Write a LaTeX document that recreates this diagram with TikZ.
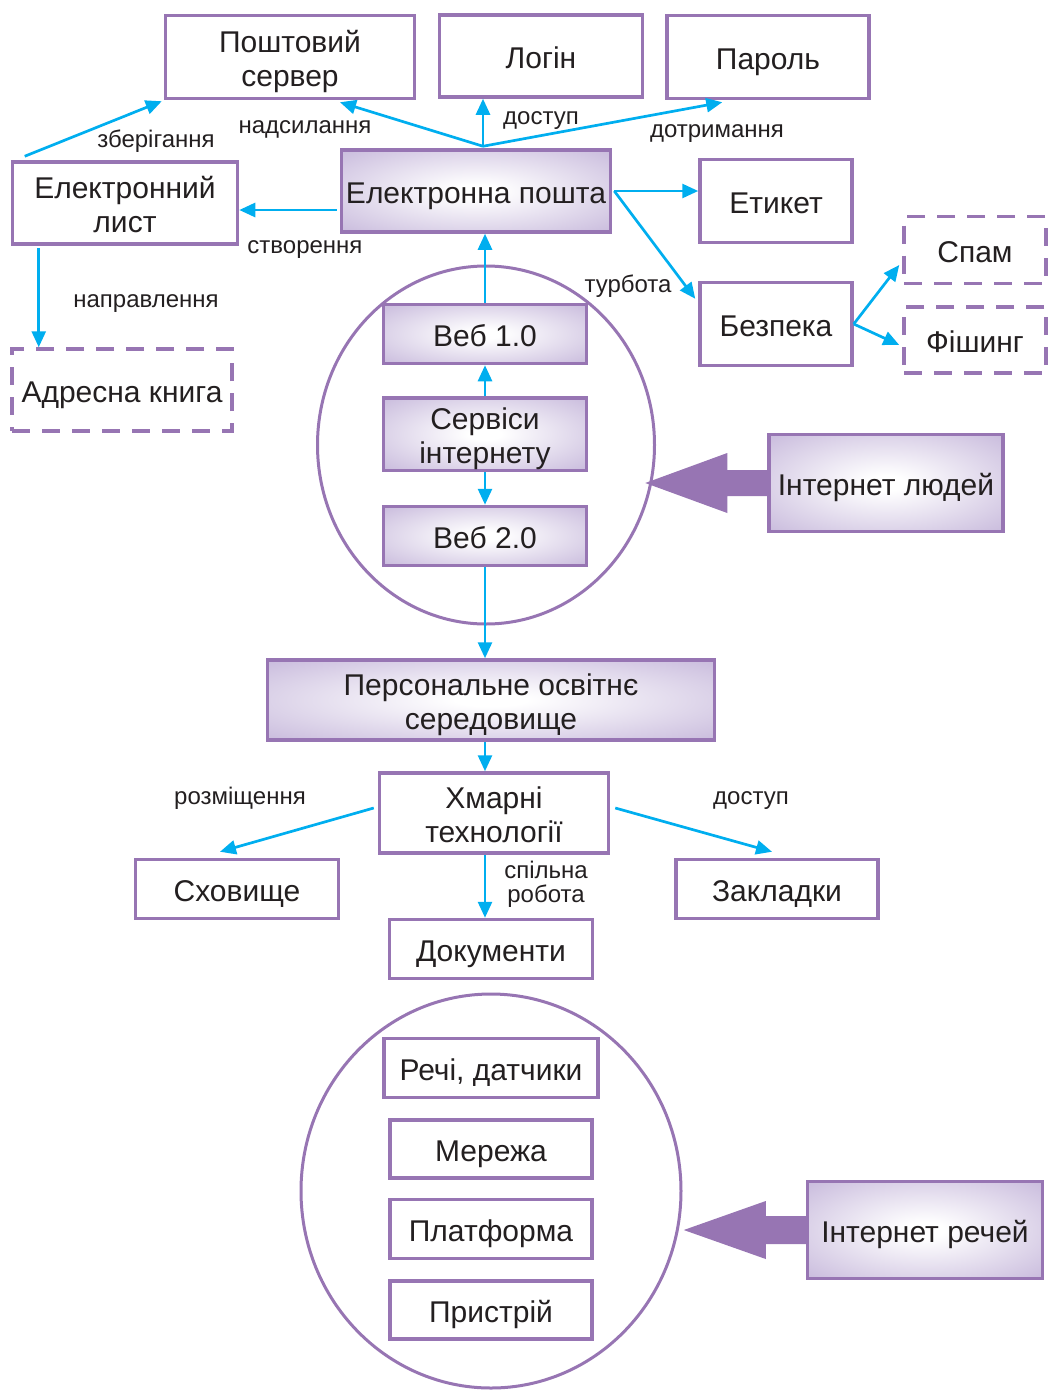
\documentclass[tikz,border=0pt]{standalone}
\usepackage{fontspec}
\setmainfont{Liberation Sans}
\usetikzlibrary{arrows.meta,calc,shapes.geometric}
\definecolor{pur}{RGB}{151,117,179}
\definecolor{lav}{RGB}{176,156,205}
\definecolor{cy}{RGB}{0,174,239}
\definecolor{txt}{RGB}{35,31,32}
\newcommand\fstrut{\rule{0pt}{32pt}}
\pgfdeclareradialshading{boxshade}{\pgfpoint{0bp}{0bp}}{color(0bp)=(white); color(4bp)=(white); color(50bp)=(lav)}
\tikzset{
  box/.style={draw=pur, line width=3.5pt, fill=white, inner sep=0pt, align=center, text=txt,
    font=\fontsize{30}{31}\selectfont,
    execute at begin node={\rule{0pt}{32pt}}, execute at end node={\rule[-6.5pt]{0pt}{6.5pt}}},
  two/.style={font=\fontsize{30}{34}\selectfont, execute at begin node={}},
  gbox/.style={box, shading=boxshade},
  dbox/.style={box, dash pattern=on 18pt off 12pt},
  lbl/.style={text=txt, inner sep=0pt, align=center, font=\fontsize{24}{24}\selectfont,
    execute at begin node={\rule{0pt}{17pt}}, execute at end node={\rule[-5pt]{0pt}{5pt}}},
  con/.style={draw=cy, line width=2.7pt, -{Triangle[length=16pt,width=14pt]}},
  bigarrow/.style={fill=pur, draw=none},
}
\begin{document}
\begin{tikzpicture}[x=1pt,y=-1pt]
\useasboundingbox (0,0) rectangle (1050,1390);
% ellipses
\node[ellipse, draw=pur, line width=3pt, minimum width=337pt, minimum height=358pt, inner sep=0pt] (c1) at (486,445) {};
\node[ellipse, draw=pur, line width=3pt, minimum width=380pt, minimum height=394pt, inner sep=0pt] (c2) at (491,1191) {};
% top row
\node[box, two, minimum width=249pt, minimum height=83pt] (ps) at (290,57) {\fstrut Поштовий\\сервер};
\node[box, minimum width=203pt, minimum height=82pt] (lg) at (541,56) {Логін};
\node[box, minimum width=202pt, minimum height=83pt] (pw) at (768,57) {Пароль};
\node[box, two, minimum width=225pt, minimum height=82pt] (el) at (125,203) {\fstrut Електронний\\лист};
\node[gbox, minimum width=269pt, minimum height=82pt] (em) at (476,191) {Електронна пошта};
\node[box, minimum width=152pt, minimum height=83pt] (et) at (776,201) {Етикет};
\node[box, minimum width=152pt, minimum height=83pt] (bz) at (776,324) {Безпека};
\node[dbox, minimum width=142pt, minimum height=67pt] (sp) at (975,250) {Спам};
\node[dbox, minimum width=142pt, minimum height=66pt] (fs) at (975,340) {Фішинг};
\node[dbox, minimum width=220pt, minimum height=82pt] (ab) at (122,390) {Адресна книга};
% circle 1 content
\node[gbox, minimum width=203pt, minimum height=59pt] (w1) at (485,334) {Веб 1.0};
\node[gbox, two, minimum width=203pt, minimum height=72pt] (sv) at (485,434) {\fstrut Сервіси\\інтернету};
\node[gbox, minimum width=203pt, minimum height=59pt] (w2) at (485,536) {Веб 2.0};
\node[gbox, minimum width=234pt, minimum height=97pt] (ppl) at (886,483) {Інтернет людей};
% middle
\node[gbox, two, minimum width=447pt, minimum height=80pt] (pos) at (491,700) {\fstrut Персональне освітнє\\середовище};
\node[box, two, minimum width=229pt, minimum height=80pt] (hm) at (494,813) {\fstrut Хмарні\\технології};
\node[box, minimum width=203pt, minimum height=59pt] (sh) at (237,889) {Сховище};
\node[box, minimum width=202pt, minimum height=59pt] (zk) at (777,889) {Закладки};
\node[box, minimum width=203pt, minimum height=59pt] (dk) at (491,949) {Документи};
% circle 2 content
\node[box, minimum width=214pt, minimum height=59pt] (rd) at (491,1068) {Речі, датчики};
\node[box, minimum width=202pt, minimum height=58pt] (mr) at (491,1149) {Мережа};
\node[box, minimum width=202pt, minimum height=59pt] (pl) at (491,1229) {Платформа};
\node[box, minimum width=202pt, minimum height=58pt] (pr) at (491,1310) {Пристрій};
\node[gbox, minimum width=235pt, minimum height=97pt] (thg) at (925,1230) {Інтернет речей};
% big arrows
\fill[bigarrow] ($(ppl.west)+(0,-13)$) -- ($(ppl.west)+(-40,-13)$) -- ($(ppl.west)+(-40,-30)$)
  -- ($(ppl.west)+(-122,0)$) -- ($(ppl.west)+(-40,30)$) -- ($(ppl.west)+(-40,13)$) -- ($(ppl.west)+(0,13)$) -- cycle;
\fill[bigarrow] ($(thg.west)+(0,-14)$) -- ($(thg.west)+(-40,-14)$) -- ($(thg.west)+(-40,-29)$)
  -- ($(thg.west)+(-122,0)$) -- ($(thg.west)+(-40,29)$) -- ($(thg.west)+(-40,14)$) -- ($(thg.west)+(0,14)$) -- cycle;
% connector points
\coordinate (emt) at ($(em.north)+(7,-2)$);
\coordinate (psb) at ($(ps.south)+(50,2)$);
\coordinate (pwb) at ($(pw.south west)+(57,2)$);
\coordinate (elt) at ($(el.north west)+(14,-4)$);
\coordinate (psw) at ($(ps.south west)+(-2,1)$);
\coordinate (eml) at ($(em.west)+(-3,19)$);
\coordinate (emr) at ($(em.east)+(2,0)$);
\coordinate (bzt) at ($(bz.north west)+(-3,18)$);
\coordinate (spl) at ($(sp.west)+(-3,15)$);
\coordinate (fsl) at ($(fs.west)+(-3,5)$);
\coordinate (elb) at ($(el.south west)+(28,2)$);
\coordinate (hml) at ($(hm.west)+(-4,-5)$);
\coordinate (hmr) at ($(hm.east)+(5,-5)$);
\coordinate (sht) at ($(sh.north)+(-17,-6)$);
\coordinate (zkt) at ($(zk.north)+(-5,-6)$);
% connectors
\draw[con] (emt) -- (psb);
\draw[con] (emt) -- (emt |- lg.south);
\draw[con] (emt) -- (pwb);
\draw[con] (elt) -- (psw);
\draw[con] (eml) -- (eml -| el.east);
\draw[con] (emr) -- (emr -| et.west);
\draw[con] (emr) -- (bzt);
\draw[con] (bz.east) -- (spl);
\draw[con] (bz.east) -- (fsl);
\draw[con] (elb) -- (elb |- ab.north);
\draw[con] (w1.north) -- (w1.north |- em.south);
\draw[con] (sv.north) -- (w1.south);
\draw[con] (sv.south) -- (w2.north);
\draw[con] (w2.south) -- (w2.south |- pos.north);
\draw[con] (w2.south |- pos.south) -- (w2.south |- hm.north);
\draw[con] (hml) -- (sht);
\draw[con] (hmr) -- (zkt);
\draw[con] (w2.south |- hm.south) -- (w2.south |- dk.north);
% labels
\node[lbl] (l1) at (305,127) {надсилання};
\node[lbl] (l2) at (541,118) {доступ};
\node[lbl] (l3) at (717,131) {дотримання};
\node[lbl] (l4) at (156,141) {зберігання};
\node[lbl] (l5) at (305,247) {створення};
\node[lbl] (l6) at (628,286) {турбота};
\node[lbl] (l7) at (146,301) {направлення};
\node[lbl] (l8) at (240,798) {розміщення};
\node[lbl] (l9) at (751,798) {доступ};
\node[lbl] (l10) at (546,884) {спільна\\робота};
\end{tikzpicture}
\end{document}
